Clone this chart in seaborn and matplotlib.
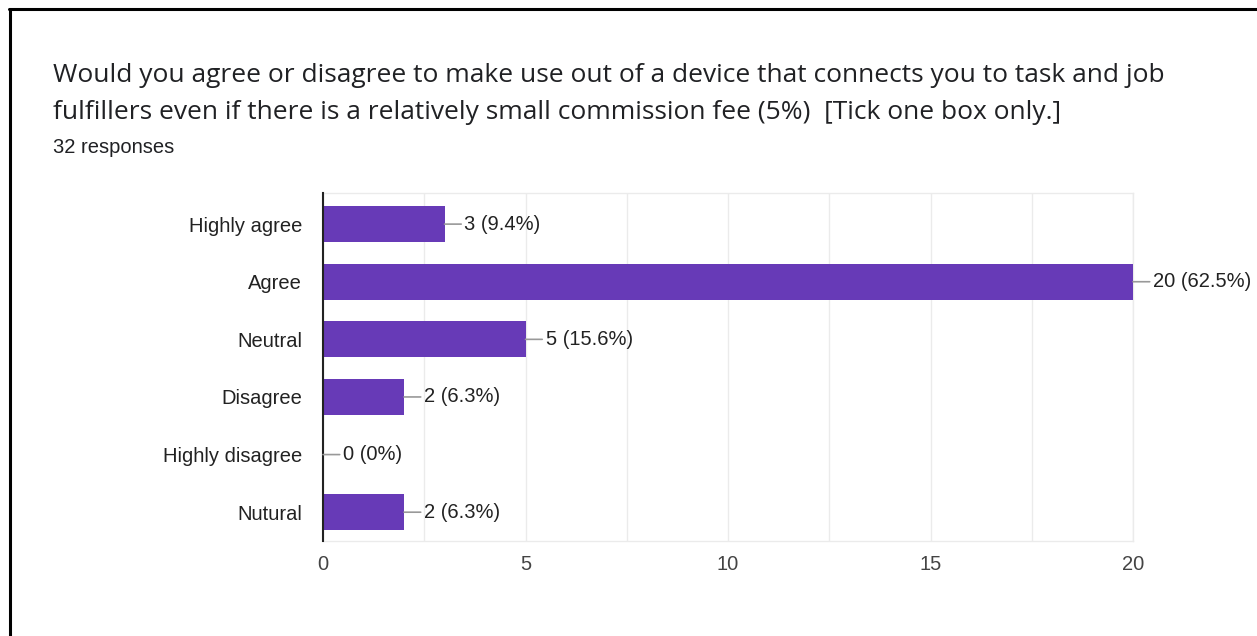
import matplotlib
matplotlib.use("Agg")
import matplotlib.pyplot as plt
from matplotlib.lines import Line2D
from matplotlib.ticker import MultipleLocator
import seaborn as sns
import pandas as pd

# Survey answers and counts
categories = ["Highly agree", "Agree", "Neutral", "Disagree", "Highly disagree", "Nutural"]
counts = [3, 20, 5, 2, 0, 2]
percents = [9.4, 62.5, 15.6, 6.3, 0, 6.3]
x_ticks = [0, 5, 10, 15, 20]

title_lines = [
    "Would you agree or disagree to make use out of a device that connects you to task and job",
    "fulfillers even if there is a relatively small commission fee (5%)  [Tick one box only.]",
]
subtitle = "32 responses"

sns.set_theme(style="white")
plt.rcParams["font.family"] = ["Liberation Sans", "DejaVu Sans"]

df = pd.DataFrame({"answer": categories, "count": counts})

W, H = 1257, 636
fig = plt.figure(figsize=(W / 100, H / 100), dpi=100)
ax = fig.add_axes([323 / W, 1 - 541 / H, (1133 - 323) / W, (541 - 193) / H])

bar_color = "#673ab7"
sns.barplot(data=df, x="count", y="answer", order=categories, color=bar_color,
            width=0.63, saturation=1, linewidth=0, ax=ax, zorder=3)

ax.set_xlim(0, 20)
ax.set_ylim(5.5, -0.54)
ax.xaxis.set_minor_locator(MultipleLocator(2.5))
ax.set_xticks(x_ticks)
ax.grid(True, axis="x", which="both", color="#ebebeb", linewidth=1, zorder=0)
ax.grid(False, axis="y")
ax.set_xlabel("")
ax.set_ylabel("")

for side in ["top", "right", "bottom"]:
    ax.spines[side].set_color("#ebebeb")
    ax.spines[side].set_linewidth(1)
ax.spines["left"].set_color("#222222")
ax.spines["left"].set_linewidth(1.5)
ax.spines["left"].set_zorder(5)

ax.tick_params(axis="both", which="both", length=0, colors="#444444")
ax.tick_params(axis="x", labelsize=14.5, pad=10)
ax.tick_params(axis="y", labelsize=14.5, pad=15, labelcolor="#222222")

# Value labels with short leader lines
for i, (c, p) in enumerate(zip(counts, percents)):
    ax.annotate(f"{c} ({p:g}%)", xy=(c, i), xytext=(20, 0), textcoords="offset pixels",
                va="center", ha="left", fontsize=14.5, color="#222222",
                arrowprops=dict(arrowstyle="-", color="#999999", lw=1.2,
                                shrinkA=0, shrinkB=0),
                annotation_clip=False, zorder=6)

for line, base in zip(title_lines, [82, 119]):
    fig.text(53 / W, 1 - base / H, line, fontsize=19, color="#202124",
             family=["Open Sans", "DejaVu Sans"], ha="left", va="baseline")
fig.text(53 / W, 1 - 153 / H, subtitle, fontsize=14.5, color="#202124",
         ha="left", va="baseline")

# Frame edges along the top and left
fig.add_artist(Line2D([9 / W, 1], [1 - 9 / H, 1 - 9 / H], color="black",
                      linewidth=2.2, transform=fig.transFigure))
fig.add_artist(Line2D([10 / W, 10 / W], [0, 1 - 9 / H], color="black",
                      linewidth=2.2, transform=fig.transFigure))

fig.savefig("out.png", dpi=100, facecolor="white")
